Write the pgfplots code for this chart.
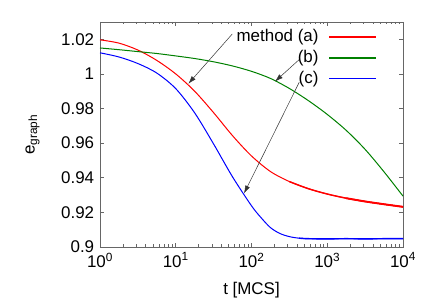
\documentclass[border=0pt]{standalone}
\usepackage{pgfplots}
\pgfplotsset{compat=1.18}
\usepackage{pgfplotstable}
\usepackage{fontspec}
\setmainfont{Liberation Sans}
\usetikzlibrary{arrows.meta}
\definecolor{gpred}{RGB}{255,0,0}
\definecolor{gpgreen}{RGB}{0,128,0}
\definecolor{gpblue}{RGB}{0,0,255}
\pgfplotstableread{
t e
1 1.0197
1.778 1.0178
3.162 1.0138
5.623 1.0078
10 1.0000
17.78 0.9900
31.62 0.9776
56.23 0.9643
100 0.9526
177.8 0.9436
316.2 0.9378
562.3 0.9337
1000 0.9306
1778 0.9282
3162 0.9263
5623 0.9247
10000 0.9232
}\dataA
\pgfplotstableread{
t e
316.2 0.9378
562.3 0.9337
1000 0.9306
1778 0.9282
3162 0.9263
5623 0.9247
10000 0.9232
}\dataAlate
\pgfplotstableread{
t e
1778 0.9282
3162 0.9263
5623 0.9247
10000 0.9232
}\dataAend
\pgfplotstableread{
t e
1 1.0150
1.778 1.0140
3.162 1.0129
5.623 1.0118
10 1.0104
17.78 1.0089
31.62 1.0070
56.23 1.0046
100 1.0015
177.8 0.9974
316.2 0.9916
562.3 0.9846
1000 0.9766
1778 0.9674
3162 0.9564
5623 0.9434
10000 0.9294
}\dataB
\pgfplotstableread{
t e
1 1.0122
1.778 1.0098
3.162 1.0060
5.623 1.0005
10 0.9915
17.78 0.9775
31.62 0.9595
56.23 0.9405
100 0.9238
133.4 0.9170
177.8 0.9112
237.1 0.9078
316.2 0.9060
421.7 0.9051
562.3 0.9048
1000 0.9047
1778 0.9048
3162 0.9047
5623 0.9048
10000 0.9048
}\dataC
\pgfplotstableread{
t e
421.7 0.9051
562.3 0.9048
1000 0.9047
1778 0.9048
3162 0.9047
5623 0.9048
10000 0.9048
}\dataClate
\begin{document}
\fontsize{17}{20}\selectfont
\begin{tikzpicture}
\begin{axis}[
  scale only axis, width=303bp, height=225bp,
  xmode=log, xmin=1, xmax=10000, ymin=0.9, ymax=1.03,
  xtick={1,10,100,1000,10000},
  xticklabels={10\textsuperscript{0},10\textsuperscript{1},10\textsuperscript{2},10\textsuperscript{3},10\textsuperscript{4}},
  ytick={0.9,0.92,0.94,0.96,0.98,1,1.02},
  yticklabels={0.9,0.92,0.94,0.96,0.98,1,1.02},
  axis line style={draw=black!60, line width=0.8bp},
  tick style={black!60, line width=0.6bp},
  tick align=inside,
  major tick length=4bp, minor tick length=2.5bp,
  xlabel={t [MCS]}, ylabel={e\textsubscript{graph}},
  xlabel shift=3bp, ylabel shift=10bp,
  clip=false,
  legend plot pos=right,
  legend cell align=right,
  legend image code/.code={\draw[#1, line width=1.6bp] (0bp,0bp) -- (47bp,0bp);},
  legend style={draw=none, fill=none, at={(0.925,0.985)}, anchor=north east, row sep=2bp, column sep=8bp, font=\fontsize{17}{20}\selectfont},
]
\addplot[gpred, line width=1bp, smooth] table[x=t,y=e]{\dataA};
\addlegendentry{method (a)}
\addplot[gpgreen, line width=1bp, smooth] table[x=t,y=e]{\dataB};
\addlegendentry{(b)}
\addplot[gpblue, line width=1bp, smooth] table[x=t,y=e]{\dataC};
\addlegendentry{(c)}
\addplot[gpred, line width=1.4bp, smooth, forget plot] table[x=t,y=e]{\dataAlate};
\addplot[gpred, line width=1.9bp, smooth, forget plot] table[x=t,y=e]{\dataAend};
\addplot[gpblue, line width=1.4bp, smooth, forget plot] table[x=t,y=e]{\dataClate};
\draw[black!80, line width=0.5bp, -{Latex[length=8bp,width=5bp]}] (axis cs:55.8,1.0231) -- (axis cs:14.65,0.9943);
\draw[black!80, line width=0.5bp, -{Latex[length=8bp,width=5bp]}] (axis cs:436.8,1.0087) -- (axis cs:204,0.9956);
\draw[black!80, line width=0.5bp, -{Latex[length=8bp,width=5bp]}] (axis cs:427,0.9952) -- (axis cs:79.6,0.9309);
\coordinate (sw) at (rel axis cs:0,0);
\coordinate (ne) at (rel axis cs:1,1);
\end{axis}
\pgfresetboundingbox
\path (sw) +(-100bp,-58bp) (ne) +(33bp,22bp);
\end{tikzpicture}
\end{document}
